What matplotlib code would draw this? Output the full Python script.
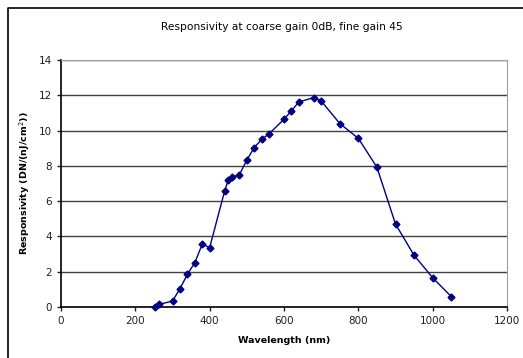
import matplotlib
matplotlib.use('Agg')
import matplotlib.pyplot as plt
from matplotlib.lines import Line2D

# Data
wavelength = [254, 265, 300, 320, 340, 360, 380, 400, 440, 450, 460, 480, 500, 520,
              540, 560, 600, 620, 640, 680, 700, 750, 800, 850, 900, 950, 1000, 1050]
responsivity = [0.0, 0.15, 0.34, 1.03, 1.85, 2.51, 3.56, 3.37, 6.55, 7.2, 7.35, 7.5,
                8.33, 9.04, 9.5, 9.82, 10.64, 11.12, 11.62, 11.87, 11.68, 10.4, 9.56,
                7.92, 4.70, 2.93, 1.66, 0.59]
xticks = [0, 200, 400, 600, 800, 1000, 1200]
yticks = [0, 2, 4, 6, 8, 10, 12, 14]

plt.rcParams['font.family'] = ['DejaVu Sans']

fig = plt.figure(figsize=(5.23, 3.58), dpi=100)
# chart frame: only left and top edges are visible in the crop
fig.lines.append(Line2D([7.5 / 523, 7.5 / 523, 1], [0, 1 - 7.5 / 358, 1 - 7.5 / 358],
                        transform=fig.transFigure, color='black', linewidth=1.2))

ax = fig.add_axes([61 / 523, 51 / 358, 446 / 523, 247 / 358])
ax.plot(wavelength, responsivity, color='#000080', linewidth=1, marker='D', markersize=3.5,
        clip_on=False, zorder=3)
ax.set_xlim(0, 1200)
ax.set_ylim(0, 14)
ax.set_xticks(xticks)
ax.set_yticks(yticks)
ax.tick_params(labelsize=7.5, direction='out', length=3, width=1, colors='#202020')
ax.grid(True, axis='y', color='#404040', linewidth=1)
ax.set_axisbelow(True)
for s in ['top', 'right']:
    ax.spines[s].set_color('#a0a0a0')
ax.spines['left'].set_linewidth(1.2)
ax.spines['bottom'].set_linewidth(1.2)

ax.set_xlabel('Wavelength (nm)', fontsize=6.8, fontweight='bold', labelpad=7)
ax.set_ylabel('Responsivity (DN/(nJ/cm$^2$))', fontsize=6.8, fontweight='bold', labelpad=5)
fig.text(282 / 523, 1 - 27 / 358, 'Responsivity at coarse gain 0dB, fine gain 45',
         fontsize=7.7, ha='center', va='center')

fig.savefig('out.png', dpi=100)
